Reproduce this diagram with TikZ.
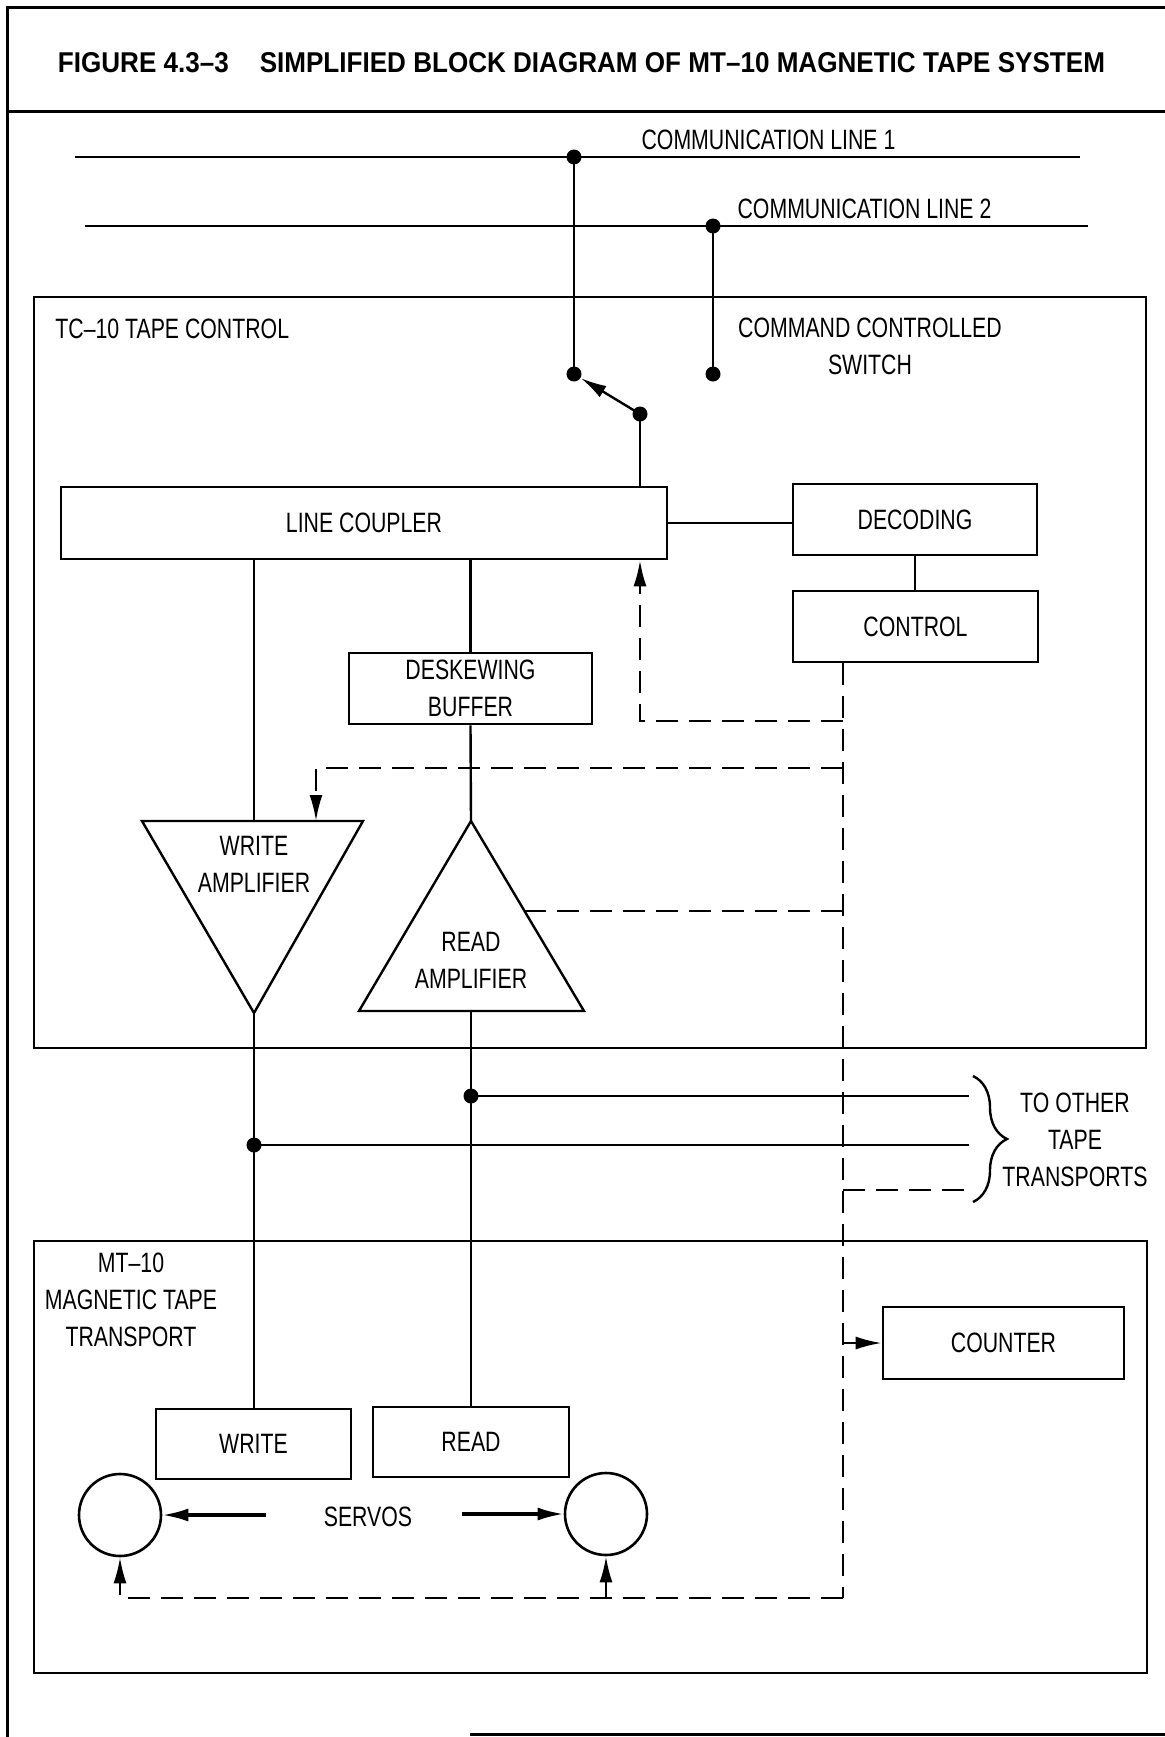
\documentclass[tikz,border=0pt]{standalone}
\usepackage{fontspec}
\usepackage{graphicx}
\setmainfont{Liberation Sans}
\newfontfamily\lblfont[FakeStretch=0.76]{Liberation Sans}
\usetikzlibrary{arrows.meta,calc,decorations.pathreplacing}

\begin{document}
\begin{tikzpicture}[x=0.5pt,y=-0.5pt,
  every node/.style={font=\lblfont\fontsize{14}{18.5}\selectfont},
  wire/.style={line width=1.2pt},
  ctl/.style={line width=1.2pt,dash pattern=on 11pt off 5.5pt},
  blk/.style={draw,line width=1.3pt,inner sep=0pt,align=center},
  frameline/.style={line width=1.5pt},
  dot/.style={circle,fill,inner sep=0pt,minimum size=7.5pt},
  tip/.style={-{Latex[length=13pt,width=6.5pt]}},
  txt/.style={align=center,inner sep=0pt},
  servo/.style={circle,draw,line width=1.3pt,inner sep=0pt,minimum size=41pt}]

\useasboundingbox (0,0) rectangle (1165,1737);

% sheet frame and title strip
\draw[frameline] (1165,7) -- (7,7) -- (7,1737);
\draw[frameline] (7,111) -- (1165,111);
\draw[frameline] (470,1734) -- (1165,1734);
\node[inner sep=0pt] (ttl) at (581.5,63)
  {\resizebox{523.5pt}{10pt}{\bfseries FIGURE 4.3–3\hspace{0.9em}SIMPLIFIED BLOCK DIAGRAM OF MT–10 MAGNETIC TAPE SYSTEM}};

% communication lines
\coordinate (l1w) at (75,157);  \coordinate (l1e) at (1080,157);
\coordinate (l2w) at (85,226);  \coordinate (l2e) at (1088,226);
\draw[wire] (l1w) -- (l1e);
\draw[wire] (l2w) -- (l2e);
\node[txt] (cl1) at (768.5,140) {COMMUNICATION LINE 1};
\node[txt] (cl2) at (864.5,209) {COMMUNICATION LINE 2};

% tape control enclosure
\node[blk,minimum width=556pt,minimum height=375.5pt] (tc) at (590,672.5) {};
\node[txt,anchor=west] (tcl) at (55,329) {TC–10 TAPE CONTROL};
\node[txt] (ccs) at (870,346) {COMMAND CONTROLLED\\SWITCH};

% command controlled switch
\node[dot] (j1) at (574,157) {};
\node[dot] (j2) at (713,226) {};
\node[dot] (c1) at (574,374) {};
\node[dot] (c2) at (713,374) {};
\node[dot] (piv) at (640,414) {};
\draw[wire] (j1.center) -- (c1.center);
\draw[wire] (j2.center) -- (c2.center);
\draw[wire,tip] (piv.center) -- (c1);

% blocks
\node[blk,minimum width=303pt,minimum height=36pt] (lc) at (364,523) {LINE COUPLER};
\node[blk,minimum width=122pt,minimum height=35.5pt] (dec) at (915,519.5) {DECODING};
\node[blk,minimum width=122.5pt,minimum height=35.5pt] (ctrl) at (915.5,626.5) {CONTROL};
\node[blk,minimum width=121.5pt,minimum height=35.5pt] (desk) at (470.5,688.5) {DESKEWING\\BUFFER};

\draw[wire] (piv.center) -- (lc.north -| piv);
\draw[wire] (lc.east) -- (lc.east -| dec.west);
\draw[wire] (dec.south) -- (dec.south |- ctrl.north);

% amplifiers
\coordinate (wa-l) at (142,821);
\coordinate (wa-r) at (363,821);
\coordinate (wa-b) at (254,1013);
\coordinate (wa-t) at (254,821);
\coordinate (wa-in) at (316,821);
\draw[wire,line join=miter] (wa-l) -- (wa-r) -- (wa-b) -- cycle;
\node[txt] (wa) at (254,864) {WRITE\\AMPLIFIER};

\coordinate (ra-t) at (471,821);
\coordinate (ra-l) at (359,1011);
\coordinate (ra-r) at (584,1011);
\coordinate (ra-b) at (471,1011);
\coordinate (ra-s) at ($(ra-t)!0.474!(ra-r)$);
\draw[wire,line join=miter] (ra-t) -- (ra-r) -- (ra-l) -- cycle;
\node[txt] (ra) at (471,960.5) {READ\\AMPLIFIER};

\draw[wire] (lc.south -| wa-t) -- (wa-t);
\draw[wire] (lc.south -| desk.north) -- (desk.north);
\draw[wire] (desk.south) -- (ra-t);

% tape transport enclosure
\node[blk,minimum width=556.5pt,minimum height=216pt] (mt) at (590.5,1457) {};
\node[txt] (mtl) at (131,1300) {MT–10\\MAGNETIC TAPE\\TRANSPORT};
\node[blk,minimum width=120.5pt,minimum height=36pt] (cnt) at (1003.5,1343) {COUNTER};
\node[blk,minimum width=97.5pt,minimum height=35pt] (wh) at (253.5,1444) {WRITE};
\node[blk,minimum width=98pt,minimum height=35pt] (rh) at (471,1442) {READ};
\node[servo] (sl) at (120,1515) {};
\node[servo] (sr) at (606,1514) {};
\node[txt] (sv) at (368,1517) {SERVOS};
\coordinate (sv-l) at (266,1515);
\coordinate (sv-r) at (462,1514);
\draw[line width=1.6pt,tip] (sv-l) -- (sl.east);
\draw[line width=1.6pt,tip] (sv-r) -- (sr.west);

% read / write bus
\node[dot] (jw) at (254,1145) {};
\node[dot] (jr) at (471,1096) {};
\coordinate (ot1) at (969,1096);
\coordinate (ot2) at (969,1145);
\coordinate (ot3) at (969,1190);
\draw[wire] (wa-b) -- (wa-b |- wh.north);
\draw[wire] (ra-b) -- (rh.north);
\draw[wire] (jr.center) -- (ot1);
\draw[wire] (jw.center) -- (ot2);

% control lines (dashed)
\coordinate (trk) at (843,0);
\coordinate (b1) at (843,721);
\coordinate (b2) at (843,768);
\coordinate (b4) at (843,1190);
\coordinate (bend) at (843,1598);
\draw[ctl] (trk |- ctrl.south) -- (bend);
\draw[ctl,tip] (b1) -| (lc.south -| piv);
\draw[ctl,tip] (b2) -| (wa-in);
\draw[ctl] (ra-s -| trk) -- (ra-s);
\draw[ctl] (b4) -- (ot3);
\draw[ctl,tip] (cnt.west -| trk) -- (cnt.west);
\draw[ctl,tip] (bend) -| (sl.south);
\draw[wire,tip] (sr.south |- bend) -- (sr.south);

% to other transports
\coordinate (br-t) at (973,1076);
\coordinate (br-b) at (973,1202);
\draw[wire,decorate,decoration={brace,amplitude=17pt,aspect=0.5}] (br-t) -- (br-b);
\node[txt] (oth) at (1075,1140) {TO OTHER\\TAPE\\TRANSPORTS};

\end{tikzpicture}
\end{document}
